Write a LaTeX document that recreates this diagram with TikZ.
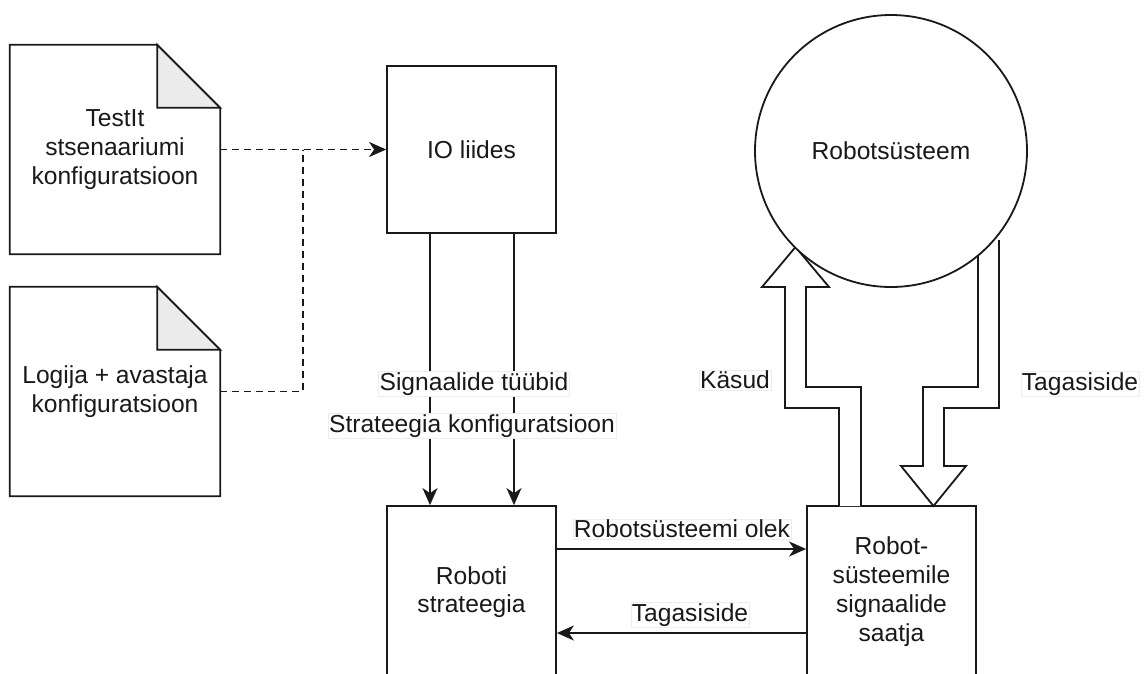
\documentclass[tikz,border=0pt]{standalone}
\usepackage{fontspec}
\setmainfont{Liberation Sans}
\usetikzlibrary{arrows.meta,calc}
\begin{document}
\begin{tikzpicture}[x=1pt,y=-1pt,
  every node/.style={font=\fontsize{24.6}{29}\selectfont, text=black!90},
  ln/.style={line width=1.8pt, draw=black!90},
  boxnode/.style={ln, rectangle, minimum width=169pt, minimum height=167pt, inner sep=0pt, align=center, fill=white},
  docnode/.style={rectangle, minimum width=210pt, minimum height=209pt, inner sep=0pt, align=center},
  lbl/.style={fill=white, draw=black!7, line width=0.5pt, inner sep=1pt},
  arr/.style={ln, -{Stealth[length=17pt,width=15pt,inset=5pt]}},
  dsh/.style={ln, dash pattern=on 7pt off 5pt},
  blk/.style={ln, fill=white, line join=miter}
]
\useasboundingbox (0,0) rectangle (1146,673);
\clip (0,0) rectangle (1146,673);

% documents
\node[docnode] (d1) at (115,149.5) {TestIt\\stsenaariumi\\konfiguratsioon};
\node[docnode] (d2) at (115,391.5) {Logija + avastaja\\konfiguratsioon};
\foreach \d in {d1,d2}{
  \draw[ln, line join=miter] (\d.north west) -- ([xshift=-63pt]\d.north east) -- ([yshift=-63pt]\d.north east) -- (\d.south east) -- (\d.south west) -- cycle;
  \filldraw[ln, fill=black!8, line join=miter] ([xshift=-63pt]\d.north east) -- ([xshift=-63pt,yshift=-63pt]\d.north east) -- ([yshift=-63pt]\d.north east) -- cycle;
}

% boxes
\node[boxnode] (io) at (471.5,149.5) {IO liides};
\node[boxnode, minimum height=172pt] (rs) at (471.5,592) {Roboti\\[-1pt]strateegia};
\node[boxnode, minimum height=172pt] (sa) at (891.5,592) {Robot-\\süsteemile\\signaalide\\saatja};

% dashed connectors
\coordinate (j) at (303,149.5);
\draw[dsh, -{Stealth[length=17pt,width=15pt,inset=5pt]}] (d1.east) -- (io.west);
\draw[dsh] (d2.east) -| (j);

% IO -> strategy
\draw[arr] ([xshift=-41.5pt]io.south) -- ([xshift=-41.5pt]rs.north);
\draw[arr] ([xshift=42.5pt]io.south) -- ([xshift=42.5pt]rs.north);
\node[lbl] at (474,384) {Signaalide tüübid};
\node[lbl] at (472,426) {Strateegia konfiguratsioon};

% strategy <-> sender
\draw[arr] (rs.east |- 0,549) -- (sa.west |- 0,549);
\draw[arr] (sa.west |- 0,633) -- (rs.east |- 0,633);
\node[lbl] at (682,529) {Robotsüsteemi olek};
\node[lbl] at (690,615) {Tagasiside};

% block arrows
\draw[blk] (839,506) -- (839,408) -- (785,408) -- (785,287) -- (762,287) -- (795.5,247) -- (829,287) -- (806,287) -- (806,387) -- (861,387) -- (861,506);
\draw[blk] (978,240) -- (978,387) -- (923,387) -- (923,466) -- (901,466) -- (933.5,506) -- (966,466) -- (944,466) -- (944,408) -- (999,408) -- (999,240);

% robot system
\node[ln, circle, fill=white, minimum size=272pt, inner sep=0pt] (ro) at (891,151) {Robotsüsteem};

\node[lbl] at (735,380) {Käsud};
\node[lbl] at (1080,384) {Tagasiside};
\end{tikzpicture}
\end{document}
